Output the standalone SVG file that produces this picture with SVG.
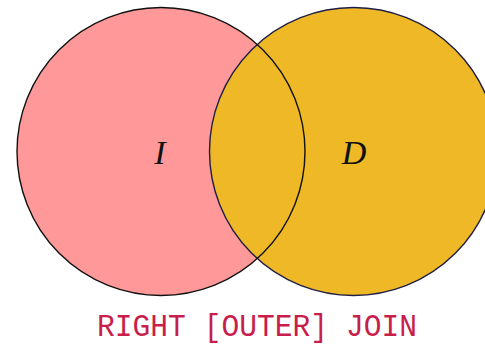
<svg xmlns="http://www.w3.org/2000/svg" width="485" height="345" viewBox="0 0 485 345">
<style>
.set{stroke-width:1.4}
.lbl{font-family:"Liberation Serif","DejaVu Serif",serif;font-style:italic;font-size:34px;fill:#111;text-anchor:middle}
.cap{font-family:"Liberation Mono","DejaVu Sans Mono",monospace;font-size:32px;fill:#C81E4B}
</style>
<rect width="485" height="345" fill="#fff"/>
<g id="left-set">
<circle cx="161" cy="151.5" r="144" fill="#FF9999" stroke="none"/>
</g>
<g id="right-set">
<circle cx="353.5" cy="151.5" r="144" fill="#EFB827" stroke="#1E1E46" class="set"/>
</g>
<g id="left-outline">
<circle cx="161" cy="151.5" r="144" fill="none" stroke="#111" class="set"/>
<text class="lbl" x="160" y="164">I</text>
</g>
<g id="right-label">
<text class="lbl" x="354" y="164">D</text>
</g>
<g id="caption">
<text class="cap" x="97" y="336" textLength="320" lengthAdjust="spacingAndGlyphs">RIGHT [OUTER] JOIN</text>
</g>
</svg>
